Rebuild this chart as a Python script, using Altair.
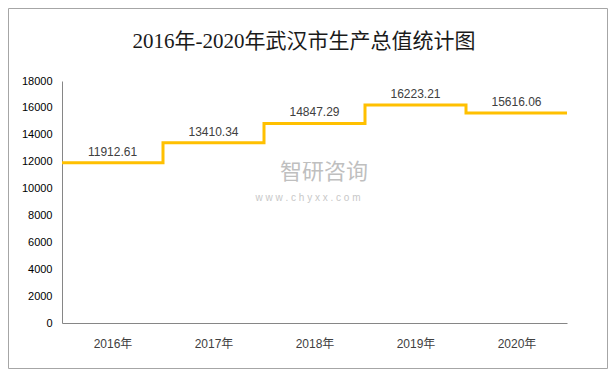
import json
import altair as alt
import pandas as pd

years = ["2016年", "2017年", "2018年", "2019年", "2020年"]
gdp = [11912.61, 13410.34, 14847.29, 16223.21, 15616.06]
y_ticks = list(range(0, 18001, 2000))
title_text = "2016年-2020年武汉市生产总值统计图"
wm_cn = "智研咨询"
wm_en = "w w w . c h y x x . c o m"

n = len(years)
line_df = pd.DataFrame({
    "x": list(range(n + 1)),
    "v": gdp + [gdp[-1]],
})
label_df = pd.DataFrame({
    "x": [i + 0.5 for i in range(n)],
    "v": gdp,
    "t": [f"{g:.2f}" for g in gdp],
})
one = pd.DataFrame({"a": [0]})

W, H = 505, 242
PL, PT, PR, PB = 54, 73, 41, 46

label_expr = json.dumps(years, ensure_ascii=False) + "[floor(datum.value)]"

xscale = alt.Scale(domain=[0, n], nice=False, zero=False)
yscale = alt.Scale(domain=[0, 18000], nice=False)

xaxis = alt.Axis(
    values=[i + 0.5 for i in range(n)], labelExpr=label_expr,
    title=None, ticks=False, grid=False, domainColor="#868686",
    labelFont="Liberation Sans, Noto Sans CJK SC", labelFontSize=12,
    labelColor="#404040", labelPadding=15,
)
yaxis = alt.Axis(
    values=y_ticks, format="d", labelOverlap=False,
    title=None, ticks=False, grid=False,
    domainColor="#868686", labelFont="Liberation Sans",
    labelFontSize=11, labelColor="#000000", labelPadding=10,
)

border = alt.Chart(one).mark_rect(
    filled=False, stroke="#A6A6A6", strokeWidth=1
).encode(
    x=alt.value(-PL + 0.5), x2=alt.value(W + PR - 0.5),
    y=alt.value(-PT + 0.5), y2=alt.value(H + PB - 0.5),
)

title = alt.Chart(one).mark_text(
    text=title_text, font="Liberation Serif, Noto Sans CJK SC",
    fontSize=21, color="#1a1a1a", align="center", baseline="middle",
).encode(x=alt.value(242), y=alt.value(-39))

line = alt.Chart(line_df).mark_line(
    interpolate="step-after", color="#FFC000", strokeWidth=3
).encode(
    x=alt.X("x:Q", scale=xscale, axis=xaxis),
    y=alt.Y("v:Q", scale=yscale, axis=yaxis),
)

labels = alt.Chart(label_df).mark_text(
    baseline="bottom", dy=-4, fontSize=12, font="Liberation Sans",
    color="#404040",
).encode(
    x=alt.X("x:Q", scale=xscale, axis=xaxis),
    y=alt.Y("v:Q", scale=yscale, axis=yaxis),
    text="t:N",
)

wm1 = alt.Chart(one).mark_text(
    text=wm_cn, fontSize=22, font="Noto Sans CJK SC", color="#BFBFBF",
    align="center", baseline="middle",
).encode(x=alt.value(262), y=alt.value(91))

wm2 = alt.Chart(one).mark_text(
    text=wm_en, fontSize=10, font="Liberation Sans", color="#C8C8C8",
    align="center", baseline="middle",
).encode(x=alt.value(246), y=alt.value(117))

chart = alt.layer(border, title, wm1, wm2, line, labels).properties(
    width=W, height=H,
    autosize=alt.AutoSizeParams(type="none"),
    padding={"left": PL, "top": PT, "right": PR, "bottom": PB},
).configure_view(stroke=None).configure_axis(labelOverlap=False)

chart.save("out.html", embed_options={"renderer": "svg", "actions": False})
